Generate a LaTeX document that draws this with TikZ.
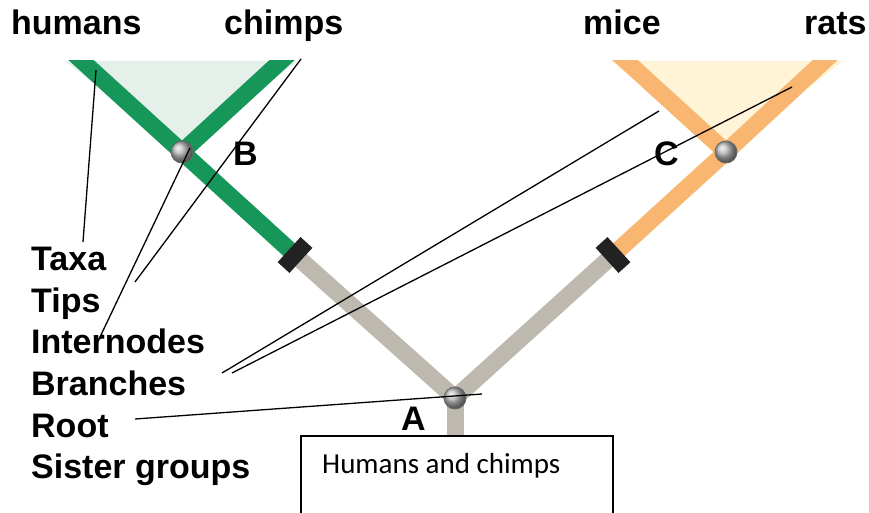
\documentclass[tikz,border=0pt]{standalone}
\usepackage{fontspec}
\setmainfont{Liberation Sans}
\newfontfamily\boxfont{Carlito}
\usetikzlibrary{calc}
\definecolor{grn}{HTML}{17965A}
\definecolor{grnfill}{HTML}{E4F0E9}
\definecolor{org}{HTML}{F8B671}
\definecolor{orgfill}{HTML}{FFF4D8}
\definecolor{gry}{HTML}{BEB9AE}
\definecolor{mark}{HTML}{222222}
\tikzset{
  band/.style={line width=17pt, line cap=butt, line join=miter},
  markbar/.style={line width=16pt, draw=mark, line cap=butt},
  dot/.style={circle, minimum size=22pt, inner sep=0pt, shading=ball, ball color=gray!55!white, draw=black!60, line width=0.8pt},
  ptr/.style={draw=black, line width=1.3pt},
  lbl/.style={font=\fontsize{34}{40}\selectfont\bfseries, inner sep=0pt, anchor=base west},
}
\begin{document}
\begin{tikzpicture}[x=1pt,y=-1pt]
\useasboundingbox (0,0) rectangle (869,513);
\fill[white] (0,0) rectangle (869,513);

% key points
\coordinate (Bc) at (182,152);
\coordinate (Cc) at (726,152);
\coordinate (Ac) at (455,398);
\coordinate (mL) at (295,255);
\coordinate (mR) at (613,255);
\coordinate (tHum) at (70,50);
\coordinate (tChi) at (293,50);
\coordinate (tMic) at (614,50);
\coordinate (tRat) at (836,50);
\coordinate (rootEnd) at (455,436);

% fills and bands (clipped at top)
\begin{scope}
\clip (0,61) rectangle (869,513);
\fill[grnfill] (65,61) -- (297,61) -- (Bc) -- cycle;
\fill[orgfill] (611,61) -- (843,61) -- (Cc) -- cycle;
\draw[band, draw=grn] (mL) -- (Bc) -- (tHum);
\draw[band, draw=grn] (Bc) -- (tChi);
\draw[band, draw=org] (mR) -- (Cc) -- (tRat);
\draw[band, draw=org] (Cc) -- (tMic);
\draw[band, draw=gry] (mL) -- (Ac) -- (mR);
\draw[band, draw=gry] (Ac) -- (rootEnd);
\end{scope}

% markers
\draw[markbar] ($(mL)!17pt!90:(Bc)$) -- ($(mL)!17pt!-90:(Bc)$);
\draw[markbar] ($(mR)!17pt!90:(Cc)$) -- ($(mR)!17pt!-90:(Cc)$);

% nodes
\node[dot] (B) at (Bc) {};
\node[dot] (C) at (Cc) {};
\node[dot] (A) at (Ac) {};

% box
\draw[line width=1.2pt] (301,530) -- (301,436) -- (613,436) -- (613,530);
\node[font=\boxfont\fontsize{29}{35}\selectfont, inner sep=0pt, anchor=base west] (boxtxt) at (322,473) {Humans and chimps};

% labels
\node[lbl] (humans) at (11,35) {humans};
\node[lbl] (chimps) at (224,35) {chimps};
\node[lbl] (mice) at (583,35) {mice};
\node[lbl] (rats) at (804,35) {rats};
\node[lbl] (Blbl) at (233,165) {B};
\node[lbl] (Clbl) at (654,165) {C};
\node[lbl] (Albl) at (401,430) {A};
\node[lbl] (taxa) at (31,270) {Taxa};
\node[lbl] (tips) at (31,312) {Tips};
\node[lbl] (intern) at (31,353) {Internodes};
\node[lbl] (branches) at (31,395) {Branches};
\node[lbl] (root) at (31,437) {Root};
\node[lbl] (sister) at (31,478) {Sister groups};

% pointer lines
\coordinate (p1a) at (96,70);   \coordinate (p1b) at (83,242);
\coordinate (p2a) at (190,148); \coordinate (p2b) at (100,337);
\coordinate (p3a) at (301,59);  \coordinate (p3b) at (135,282);
\coordinate (p4a) at (222,373); \coordinate (p4b) at (659,111);
\coordinate (p5a) at (232,373); \coordinate (p5b) at (792,87);
\coordinate (p6a) at (135,419); \coordinate (p6b) at (482,394);
\draw[ptr] (p1a) -- (p1b);
\draw[ptr] (p2a) -- (p2b);
\draw[ptr] (p3a) -- (p3b);
\draw[ptr] (p4a) -- (p4b);
\draw[ptr] (p5a) -- (p5b);
\draw[ptr] (p6a) -- (p6b);
\end{tikzpicture}
\end{document}
